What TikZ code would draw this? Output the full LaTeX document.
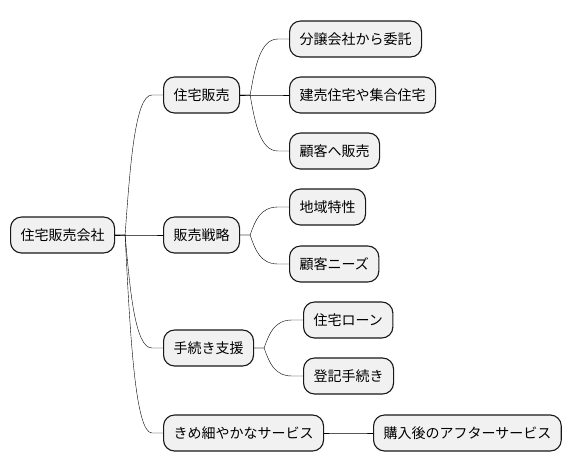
\documentclass[tikz,border=0pt]{standalone}
\usepackage{fontspec}
\setmainfont{Noto Sans CJK JP}
\usetikzlibrary{calc}
\definecolor{boxfill}{HTML}{F1F1F1}
\definecolor{boxline}{HTML}{181818}
\begin{document}
\begin{tikzpicture}[x=1pt,y=-1pt,line join=round,line cap=round,font=\fontsize{14}{16}\selectfont,
	topic/.style={draw=boxline,fill=boxfill,line width=1.1pt,rounded corners=11pt,minimum height=36pt,inner xsep=10pt,anchor=west},
	branch/.style={draw=boxline,line width=0.9pt,to path={-- ++(10pt,0) coordinate (j)
		.. controls ($(j)!.5!(j |- \tikztotarget)+(5pt,0)$) and ($(j |- \tikztotarget)+(10pt,0)$) .. ($(\tikztotarget)+(-11pt,0)$) -- (\tikztotarget)}}]
	\useasboundingbox (0,0) rectangle (572,471);
	% root and first level
	\node[topic] (root) at (10,235) {住宅販売会社};
	\node[topic] (hs) at (163,95) {住宅販売};
	\node[topic] (sr) at (163,235) {販売戦略};
	\node[topic] (ts) at (163,348) {手続き支援};
	\node[topic] (ks) at (163,433) {きめ細やかなサービス};
	% second level
	\node[topic] (bk) at (289,39) {分譲会社から委託};
	\node[topic] (tk) at (289,95) {建売住宅や集合住宅};
	\node[topic] (kh) at (289,151) {顧客へ販売};
	\node[topic] (ck) at (289,207) {地域特性};
	\node[topic] (kn) at (289,264) {顧客ニーズ};
	\node[topic] (jl) at (303,320) {住宅ローン};
	\node[topic] (tt) at (303,376) {登記手続き};
	\node[topic] (as) at (373,433) {購入後のアフターサービス};
	% connectors
	\foreach \a/\b in {root/hs,root/sr,root/ts,root/ks,hs/bk,hs/tk,hs/kh,sr/ck,sr/kn,ts/jl,ts/tt,ks/as}
		\draw (\a.east) to[branch] (\b.west);
\end{tikzpicture}
\end{document}
